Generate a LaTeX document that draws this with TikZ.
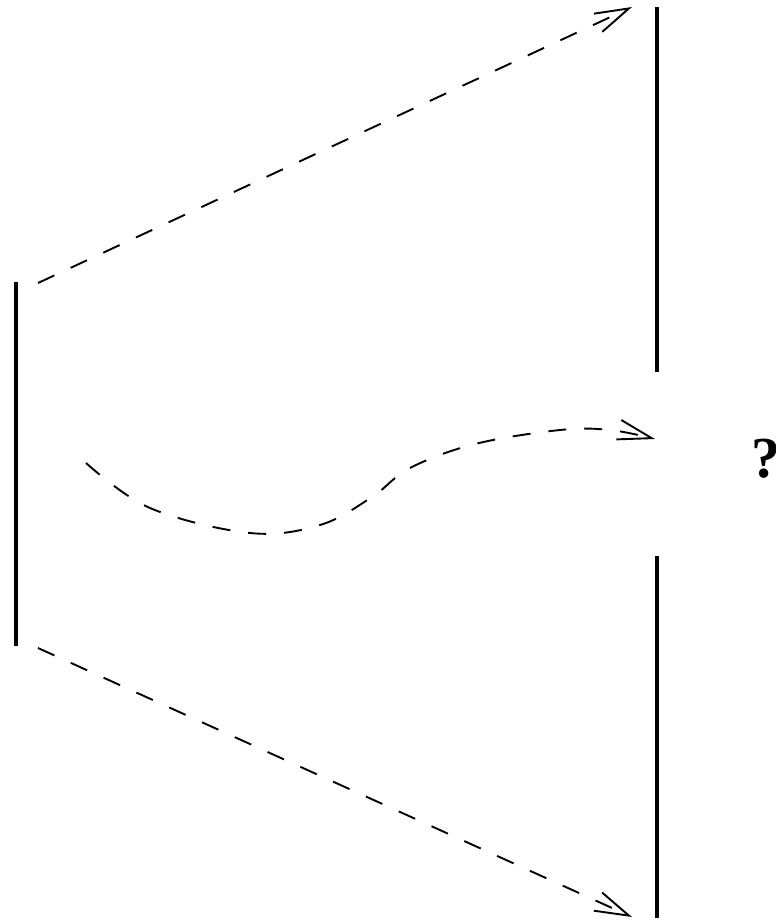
\documentclass[tikz,border=0pt]{standalone}
\usepackage{fontspec}
\newfontfamily\qfont{Liberation Serif}
\usetikzlibrary{arrows.meta}
\begin{document}
\begin{tikzpicture}[x=1pt,y=-1pt,
  bar/.style={line width=3.6pt},
  flow/.style={line width=1.9pt, dash pattern=on 18pt off 18pt,
    -{Straight Barb[length=34pt,width=20pt,line width=1.9pt]}}]
\useasboundingbox (0,0) rectangle (776,922);
% bars
\coordinate (lt) at (16,282);
\coordinate (lb) at (16,646);
\coordinate (rtt) at (657,7);
\coordinate (rtb) at (657,372);
\coordinate (rbt) at (657,556);
\coordinate (rbb) at (657,918);
\draw[bar] (lt) -- (lb);
\draw[bar] (rtt) -- (rtb);
\draw[bar] (rbt) -- (rbb);
% straight arrows
\coordinate (s1) at (38,283);
\coordinate (e1) at (632,7);
\coordinate (s2) at (38,648);
\coordinate (e2) at (632,917);
\draw[flow] (s1) -- (e1);
\draw[flow] (s2) -- (e2);
% curved arrow
\draw[flow] plot[smooth, tension=0.6] coordinates {(86,463) (150,508) (250,533) (320,525) (372,497) (410,468) (475,444) (560,430) (610,430) (655,439)};
% question mark
\node[anchor=base west, inner sep=0pt, font=\qfont\bfseries\fontsize{58}{60}\selectfont] (q) at (751,477) {?};
\end{tikzpicture}
\end{document}
